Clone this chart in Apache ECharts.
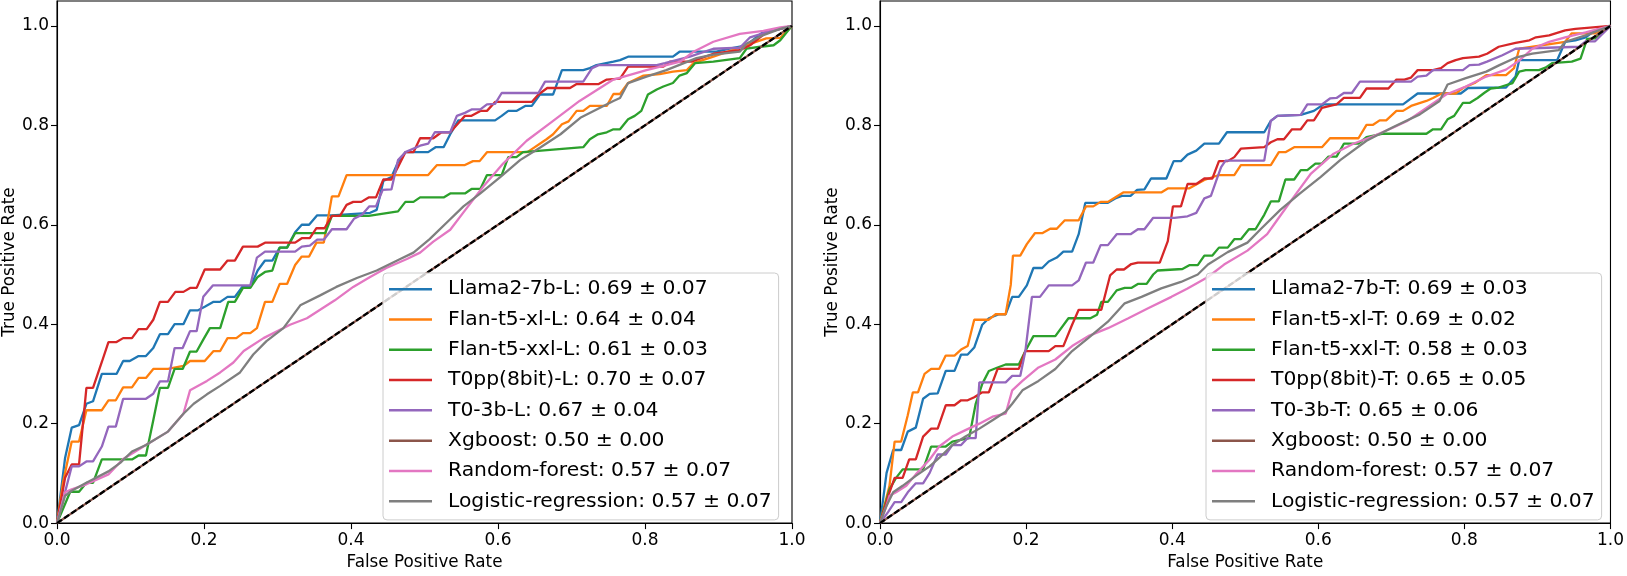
<!DOCTYPE html>
<html><head><meta charset="utf-8">
<script src="https://cdn.jsdelivr.net/npm/echarts@6/dist/echarts.min.js"></script>
<style>html,body{margin:0;padding:0;background:#fff}#c{width:1627px;height:576px}</style>
</head><body><div id="c"></div>
<script>
// ---------- tick labels ----------
const xTicks = [0, 0.2, 0.4, 0.6, 0.8, 1.0];
const yTicks = [0, 0.2, 0.4, 0.6, 0.8, 1.0];
const colors = ['#1f77b4','#ff7f0e','#2ca02c','#d62728','#9467bd','#8c564b','#e377c2','#7f7f7f'];

// ---------- legend labels ----------
const namesL = ['Llama2-7b-L: 0.69 ± 0.07','Flan-t5-xl-L: 0.64 ± 0.04','Flan-t5-xxl-L: 0.61 ± 0.03','T0pp(8bit)-L: 0.70 ± 0.07','T0-3b-L: 0.67 ± 0.04','Xgboost: 0.50 ± 0.00','Random-forest: 0.57 ± 0.07','Logistic-regression: 0.57 ± 0.07'];
const namesT = ['Llama2-7b-T: 0.69 ± 0.03','Flan-t5-xl-T: 0.69 ± 0.02','Flan-t5-xxl-T: 0.58 ± 0.03','T0pp(8bit)-T: 0.65 ± 0.05','T0-3b-T: 0.65 ± 0.06','Xgboost: 0.50 ± 0.00','Random-forest: 0.57 ± 0.07','Logistic-regression: 0.57 ± 0.07'];

// ---------- left panel (L) [fpr, tpr] ----------
const llamaL = [[0,0],[0.011,0.131],[0.020,0.192],[0.030,0.197],[0.040,0.240],[0.049,0.245],[0.061,0.300],[0.081,0.300],[0.090,0.326],[0.099,0.326],[0.111,0.336],[0.121,0.336],[0.131,0.352],[0.140,0.380],[0.151,0.380],[0.160,0.400],[0.172,0.400],[0.181,0.428],[0.192,0.428],[0.201,0.435],[0.213,0.445],[0.222,0.445],[0.232,0.455],[0.242,0.455],[0.252,0.475],[0.263,0.475],[0.273,0.508],[0.283,0.528],[0.293,0.528],[0.303,0.554],[0.313,0.554],[0.324,0.585],[0.333,0.600],[0.343,0.600],[0.354,0.619],[0.374,0.619],[0.426,0.624],[0.435,0.630],[0.444,0.688],[0.455,0.696],[0.464,0.726],[0.474,0.746],[0.505,0.746],[0.515,0.756],[0.526,0.756],[0.535,0.782],[0.546,0.810],[0.596,0.810],[0.605,0.819],[0.614,0.829],[0.625,0.829],[0.637,0.839],[0.646,0.839],[0.657,0.862],[0.675,0.862],[0.687,0.911],[0.716,0.911],[0.725,0.915],[0.734,0.921],[0.757,0.928],[0.766,0.931],[0.777,0.938],[0.838,0.938],[0.847,0.948],[0.897,0.948],[0.915,0.954],[0.938,0.961],[0.960,0.987],[0.984,0.994],[1,1]];
const flanXlL = [[0,0],[0.008,0.08],[0.020,0.164],[0.030,0.164],[0.040,0.227],[0.061,0.227],[0.070,0.247],[0.080,0.247],[0.090,0.273],[0.102,0.273],[0.111,0.292],[0.121,0.292],[0.131,0.310],[0.151,0.310],[0.172,0.316],[0.181,0.326],[0.201,0.326],[0.213,0.346],[0.222,0.346],[0.232,0.372],[0.244,0.372],[0.253,0.382],[0.263,0.382],[0.272,0.392],[0.283,0.445],[0.293,0.445],[0.303,0.481],[0.313,0.481],[0.324,0.519],[0.333,0.536],[0.343,0.536],[0.353,0.564],[0.363,0.564],[0.374,0.657],[0.383,0.657],[0.394,0.700],[0.505,0.700],[0.517,0.720],[0.555,0.720],[0.566,0.728],[0.575,0.728],[0.585,0.746],[0.640,0.746],[0.666,0.772],[0.675,0.782],[0.687,0.802],[0.696,0.808],[0.707,0.829],[0.716,0.829],[0.725,0.839],[0.748,0.839],[0.757,0.863],[0.766,0.863],[0.777,0.885],[0.798,0.900],[0.820,0.903],[0.838,0.908],[0.857,0.911],[0.866,0.925],[0.893,0.938],[0.938,0.961],[0.965,0.975],[0.984,0.976],[1,1]];
const flanXxlL = [[0,0],[0.018,0.063],[0.030,0.063],[0.040,0.081],[0.049,0.081],[0.061,0.128],[0.102,0.128],[0.111,0.136],[0.121,0.136],[0.131,0.207],[0.140,0.272],[0.151,0.272],[0.160,0.310],[0.171,0.310],[0.181,0.345],[0.190,0.345],[0.199,0.369],[0.208,0.392],[0.222,0.392],[0.233,0.445],[0.242,0.445],[0.253,0.473],[0.263,0.473],[0.273,0.495],[0.283,0.505],[0.293,0.508],[0.303,0.554],[0.313,0.554],[0.324,0.583],[0.365,0.583],[0.374,0.618],[0.424,0.618],[0.464,0.627],[0.474,0.646],[0.485,0.646],[0.494,0.655],[0.526,0.655],[0.535,0.663],[0.555,0.663],[0.564,0.672],[0.576,0.672],[0.585,0.700],[0.605,0.700],[0.614,0.736],[0.625,0.736],[0.634,0.746],[0.716,0.756],[0.725,0.772],[0.736,0.782],[0.748,0.786],[0.757,0.792],[0.766,0.792],[0.777,0.812],[0.786,0.819],[0.795,0.829],[0.804,0.862],[0.816,0.872],[0.825,0.878],[0.838,0.885],[0.847,0.900],[0.857,0.905],[0.868,0.925],[0.893,0.928],[0.929,0.935],[0.938,0.954],[0.957,0.958],[0.975,0.961],[0.984,0.971],[1,1]];
const t0ppL = [[0,0],[0.011,0.091],[0.020,0.118],[0.030,0.118],[0.040,0.272],[0.049,0.272],[0.061,0.324],[0.070,0.364],[0.081,0.364],[0.090,0.372],[0.102,0.372],[0.111,0.390],[0.122,0.390],[0.131,0.409],[0.140,0.445],[0.151,0.445],[0.161,0.465],[0.172,0.465],[0.181,0.473],[0.190,0.473],[0.201,0.510],[0.222,0.510],[0.232,0.528],[0.242,0.528],[0.253,0.556],[0.273,0.556],[0.283,0.564],[0.324,0.564],[0.333,0.573],[0.344,0.573],[0.353,0.593],[0.364,0.593],[0.374,0.618],[0.385,0.618],[0.394,0.640],[0.403,0.646],[0.414,0.646],[0.424,0.655],[0.434,0.655],[0.444,0.691],[0.455,0.691],[0.464,0.716],[0.474,0.746],[0.485,0.746],[0.494,0.774],[0.512,0.774],[0.523,0.786],[0.535,0.786],[0.546,0.804],[0.555,0.819],[0.564,0.819],[0.576,0.829],[0.585,0.829],[0.596,0.847],[0.646,0.847],[0.655,0.862],[0.667,0.875],[0.698,0.875],[0.707,0.883],[0.737,0.883],[0.748,0.892],[0.766,0.894],[0.777,0.918],[0.825,0.918],[0.834,0.928],[0.863,0.928],[0.893,0.944],[0.929,0.951],[0.943,0.961],[0.965,0.987],[0.984,0.994],[1,1]];
const t03bL = [[0,0],[0.020,0.114],[0.030,0.114],[0.040,0.124],[0.049,0.124],[0.061,0.154],[0.070,0.194],[0.080,0.194],[0.090,0.250],[0.121,0.250],[0.131,0.260],[0.140,0.285],[0.151,0.285],[0.160,0.352],[0.171,0.352],[0.181,0.386],[0.190,0.386],[0.199,0.455],[0.212,0.478],[0.263,0.478],[0.272,0.534],[0.283,0.546],[0.324,0.546],[0.333,0.556],[0.344,0.558],[0.354,0.570],[0.363,0.570],[0.374,0.591],[0.394,0.591],[0.404,0.612],[0.415,0.620],[0.425,0.637],[0.434,0.637],[0.443,0.670],[0.455,0.671],[0.464,0.730],[0.474,0.746],[0.494,0.759],[0.505,0.763],[0.514,0.786],[0.535,0.786],[0.544,0.819],[0.555,0.825],[0.564,0.832],[0.576,0.832],[0.585,0.842],[0.596,0.843],[0.605,0.865],[0.655,0.865],[0.664,0.888],[0.716,0.888],[0.728,0.915],[0.737,0.921],[0.816,0.921],[0.827,0.925],[0.861,0.938],[0.893,0.954],[0.929,0.956],[0.943,0.977],[0.965,0.987],[1,1]];
const xgbL = [[0,0],[1,1]];
const rfL = [[0,0],[0.011,0.062],[0.020,0.068],[0.040,0.078],[0.070,0.098],[0.090,0.129],[0.121,0.157],[0.151,0.184],[0.172,0.220],[0.181,0.267],[0.204,0.286],[0.222,0.303],[0.240,0.323],[0.254,0.346],[0.281,0.372],[0.317,0.399],[0.340,0.412],[0.378,0.448],[0.403,0.475],[0.426,0.495],[0.448,0.513],[0.476,0.531],[0.494,0.544],[0.512,0.566],[0.535,0.590],[0.553,0.625],[0.580,0.677],[0.607,0.723],[0.639,0.769],[0.675,0.809],[0.711,0.849],[0.757,0.892],[0.802,0.911],[0.848,0.928],[0.866,0.948],[0.893,0.968],[0.929,0.984],[0.961,0.990],[0.984,0.997],[1,1]];
const lrL = [[0,0],[0.011,0.055],[0.020,0.065],[0.040,0.081],[0.070,0.104],[0.086,0.121],[0.102,0.144],[0.121,0.157],[0.151,0.184],[0.172,0.220],[0.186,0.240],[0.204,0.259],[0.222,0.276],[0.249,0.303],[0.267,0.339],[0.285,0.366],[0.308,0.392],[0.331,0.438],[0.358,0.458],[0.380,0.475],[0.408,0.493],[0.435,0.508],[0.467,0.531],[0.485,0.544],[0.507,0.571],[0.530,0.604],[0.553,0.637],[0.576,0.663],[0.603,0.696],[0.630,0.730],[0.658,0.756],[0.685,0.782],[0.712,0.815],[0.757,0.849],[0.766,0.855],[0.777,0.885],[0.802,0.898],[0.829,0.911],[0.870,0.935],[0.893,0.942],[0.929,0.948],[0.938,0.964],[0.960,0.981],[0.984,0.994],[1,1]];

// ---------- right panel (T) [fpr, tpr] ----------
const llamaT = [[0,0],[0.009,0.101],[0.018,0.147],[0.029,0.147],[0.038,0.184],[0.049,0.192],[0.059,0.250],[0.068,0.260],[0.079,0.261],[0.090,0.306],[0.102,0.306],[0.111,0.339],[0.120,0.339],[0.129,0.353],[0.140,0.399],[0.149,0.412],[0.163,0.420],[0.172,0.420],[0.181,0.455],[0.190,0.455],[0.201,0.478],[0.210,0.513],[0.222,0.513],[0.231,0.526],[0.242,0.534],[0.251,0.546],[0.263,0.546],[0.272,0.581],[0.281,0.644],[0.312,0.644],[0.322,0.653],[0.331,0.658],[0.343,0.658],[0.352,0.670],[0.362,0.671],[0.371,0.693],[0.392,0.693],[0.402,0.728],[0.412,0.728],[0.421,0.741],[0.433,0.749],[0.444,0.763],[0.464,0.763],[0.475,0.786],[0.526,0.786],[0.535,0.809],[0.544,0.819],[0.576,0.821],[0.594,0.829],[0.607,0.842],[0.716,0.842],[0.736,0.864],[0.795,0.864],[0.805,0.875],[0.857,0.876],[0.870,0.898],[0.875,0.931],[0.927,0.931],[0.938,0.968],[0.952,0.971],[0.966,0.977],[0.979,0.991],[1,1]];
const flanXlT = [[0,0],[0.013,0.075],[0.020,0.164],[0.029,0.164],[0.038,0.217],[0.045,0.263],[0.052,0.263],[0.061,0.300],[0.070,0.310],[0.081,0.310],[0.090,0.337],[0.102,0.337],[0.111,0.349],[0.120,0.356],[0.129,0.409],[0.149,0.409],[0.158,0.420],[0.172,0.420],[0.179,0.479],[0.182,0.538],[0.192,0.538],[0.201,0.561],[0.212,0.583],[0.222,0.583],[0.233,0.592],[0.242,0.592],[0.253,0.609],[0.272,0.609],[0.282,0.637],[0.292,0.637],[0.302,0.646],[0.312,0.646],[0.324,0.657],[0.333,0.665],[0.385,0.665],[0.394,0.673],[0.423,0.673],[0.444,0.690],[0.464,0.700],[0.485,0.700],[0.494,0.720],[0.535,0.720],[0.546,0.746],[0.555,0.746],[0.567,0.756],[0.605,0.756],[0.616,0.774],[0.655,0.774],[0.666,0.801],[0.675,0.801],[0.684,0.810],[0.693,0.810],[0.707,0.829],[0.716,0.829],[0.727,0.839],[0.748,0.849],[0.757,0.855],[0.769,0.864],[0.788,0.864],[0.798,0.875],[0.814,0.885],[0.830,0.901],[0.857,0.901],[0.868,0.915],[0.875,0.954],[0.938,0.968],[0.947,0.985],[0.979,0.985],[1,1]];
const flanXxlT = [[0,0],[0.013,0.068],[0.022,0.091],[0.031,0.108],[0.059,0.108],[0.070,0.154],[0.090,0.154],[0.099,0.164],[0.122,0.171],[0.131,0.240],[0.140,0.280],[0.149,0.306],[0.161,0.313],[0.172,0.319],[0.190,0.319],[0.199,0.346],[0.210,0.376],[0.240,0.376],[0.258,0.412],[0.288,0.412],[0.297,0.419],[0.303,0.445],[0.312,0.445],[0.324,0.468],[0.335,0.473],[0.344,0.473],[0.353,0.481],[0.365,0.481],[0.374,0.500],[0.380,0.508],[0.414,0.511],[0.424,0.519],[0.435,0.519],[0.444,0.538],[0.455,0.538],[0.464,0.554],[0.476,0.554],[0.485,0.571],[0.494,0.571],[0.505,0.591],[0.514,0.591],[0.526,0.620],[0.535,0.647],[0.546,0.647],[0.555,0.691],[0.567,0.691],[0.576,0.710],[0.585,0.710],[0.596,0.723],[0.605,0.723],[0.614,0.737],[0.625,0.737],[0.635,0.763],[0.655,0.763],[0.666,0.776],[0.687,0.783],[0.748,0.783],[0.757,0.792],[0.768,0.792],[0.777,0.812],[0.786,0.819],[0.798,0.845],[0.807,0.845],[0.818,0.855],[0.827,0.865],[0.836,0.874],[0.847,0.876],[0.866,0.885],[0.875,0.908],[0.884,0.911],[0.902,0.911],[0.911,0.916],[0.920,0.925],[0.947,0.928],[0.959,0.934],[0.968,0.974],[0.979,0.975],[1,1]];
const t0ppT = [[0,0],[0.013,0.062],[0.020,0.091],[0.031,0.091],[0.040,0.128],[0.049,0.128],[0.059,0.174],[0.070,0.190],[0.079,0.190],[0.090,0.237],[0.102,0.237],[0.111,0.247],[0.120,0.247],[0.129,0.253],[0.140,0.263],[0.149,0.263],[0.161,0.310],[0.190,0.310],[0.199,0.346],[0.231,0.346],[0.240,0.356],[0.251,0.356],[0.263,0.399],[0.272,0.429],[0.303,0.429],[0.315,0.498],[0.324,0.510],[0.334,0.510],[0.344,0.521],[0.353,0.524],[0.383,0.524],[0.394,0.567],[0.401,0.637],[0.412,0.637],[0.421,0.682],[0.433,0.682],[0.444,0.693],[0.455,0.693],[0.464,0.728],[0.476,0.728],[0.485,0.736],[0.494,0.753],[0.526,0.756],[0.535,0.766],[0.544,0.772],[0.553,0.772],[0.564,0.792],[0.576,0.792],[0.585,0.810],[0.594,0.810],[0.605,0.835],[0.616,0.839],[0.625,0.842],[0.635,0.855],[0.657,0.855],[0.666,0.874],[0.696,0.874],[0.707,0.892],[0.718,0.892],[0.727,0.896],[0.736,0.911],[0.757,0.911],[0.768,0.915],[0.777,0.925],[0.788,0.931],[0.798,0.935],[0.820,0.938],[0.831,0.944],[0.847,0.958],[0.870,0.966],[0.889,0.971],[0.898,0.977],[0.916,0.981],[0.938,0.991],[0.952,0.994],[1,1]];
const t03bT = [[0,0],[0.011,0.022],[0.020,0.042],[0.029,0.042],[0.038,0.062],[0.049,0.080],[0.059,0.080],[0.068,0.101],[0.079,0.138],[0.090,0.138],[0.099,0.157],[0.111,0.157],[0.120,0.171],[0.131,0.171],[0.136,0.283],[0.172,0.283],[0.181,0.296],[0.192,0.296],[0.199,0.346],[0.208,0.455],[0.219,0.455],[0.231,0.478],[0.263,0.478],[0.272,0.488],[0.282,0.524],[0.292,0.524],[0.302,0.559],[0.312,0.559],[0.324,0.581],[0.343,0.581],[0.353,0.591],[0.362,0.591],[0.374,0.614],[0.403,0.614],[0.421,0.617],[0.433,0.624],[0.444,0.653],[0.453,0.658],[0.462,0.696],[0.467,0.716],[0.473,0.729],[0.526,0.729],[0.535,0.809],[0.544,0.819],[0.576,0.821],[0.585,0.842],[0.605,0.842],[0.616,0.854],[0.625,0.855],[0.635,0.865],[0.646,0.865],[0.657,0.888],[0.727,0.888],[0.736,0.898],[0.748,0.900],[0.757,0.911],[0.798,0.911],[0.807,0.921],[0.820,0.922],[0.831,0.928],[0.852,0.941],[0.870,0.954],[0.957,0.958],[0.966,0.969],[0.979,0.969],[1,1]];
const xgbT = [[0,0],[1,1]];
const rfT = [[0,0],[0.009,0.035],[0.013,0.055],[0.022,0.062],[0.036,0.075],[0.049,0.098],[0.068,0.128],[0.081,0.154],[0.099,0.174],[0.117,0.187],[0.136,0.200],[0.154,0.214],[0.172,0.220],[0.181,0.267],[0.195,0.286],[0.217,0.313],[0.240,0.329],[0.263,0.356],[0.285,0.376],[0.312,0.392],[0.340,0.412],[0.367,0.432],[0.399,0.455],[0.421,0.472],[0.449,0.495],[0.471,0.520],[0.503,0.548],[0.530,0.581],[0.544,0.610],[0.567,0.657],[0.590,0.703],[0.621,0.743],[0.648,0.763],[0.675,0.778],[0.702,0.795],[0.721,0.808],[0.748,0.835],[0.775,0.862],[0.802,0.878],[0.830,0.898],[0.857,0.912],[0.875,0.930],[0.893,0.954],[0.916,0.968],[0.938,0.977],[0.966,0.987],[1,1]];
const lrT = [[0,0],[0.009,0.035],[0.018,0.062],[0.031,0.075],[0.049,0.095],[0.068,0.114],[0.081,0.131],[0.099,0.157],[0.117,0.174],[0.136,0.190],[0.154,0.207],[0.172,0.224],[0.181,0.240],[0.195,0.267],[0.217,0.286],[0.240,0.310],[0.263,0.346],[0.285,0.372],[0.312,0.405],[0.335,0.442],[0.358,0.455],[0.385,0.472],[0.412,0.485],[0.435,0.500],[0.449,0.520],[0.476,0.545],[0.503,0.564],[0.521,0.591],[0.548,0.630],[0.575,0.663],[0.603,0.696],[0.630,0.730],[0.666,0.769],[0.702,0.796],[0.739,0.822],[0.766,0.849],[0.777,0.882],[0.802,0.895],[0.830,0.908],[0.848,0.921],[0.870,0.936],[0.893,0.944],[0.929,0.951],[0.938,0.968],[0.966,0.981],[1,1]];
const chance = [[0,0],[1,1]];

const dataL = [llamaL, flanXlL, flanXxlL, t0ppL, t03bL, xgbL, rfL, lrL];
const dataT = [llamaT, flanXlT, flanXxlT, t0ppT, t03bT, xgbT, rfT, lrT];

const FONT = 'DejaVu Sans';
const tickFont = 17;

function xAxisDef(gi){
  return {type:'value', gridIndex:gi, min:0, max:1, interval:0.2,
    name:'False Positive Rate', nameLocation:'middle', nameGap:29,
    nameTextStyle:{fontFamily:FONT, fontSize:16.8, color:'#000'},
    axisLine:{show:true, onZero:false, lineStyle:{color:'#000', width:1.1}},
    axisTick:{show:true, length:6, lineStyle:{color:'#000', width:1.1}, customValues:xTicks},
    axisLabel:{color:'#000', fontFamily:FONT, fontSize:tickFont, margin:9, customValues:xTicks, formatter:v=>v.toFixed(1)},
    splitLine:{show:false}};
}
function yAxisDef(gi){
  return {type:'value', gridIndex:gi, min:0, max:1.05,
    name:'True Positive Rate', nameLocation:'middle', nameGap:38,
    nameTextStyle:{fontFamily:FONT, fontSize:16.8, color:'#000'},
    axisLine:{show:true, onZero:false, lineStyle:{color:'#000', width:1.1}},
    axisTick:{show:true, length:6, lineStyle:{color:'#000', width:1.1}, customValues:yTicks},
    axisLabel:{color:'#000', fontFamily:FONT, fontSize:tickFont, margin:8, customValues:yTicks, formatter:v=>v.toFixed(1)},
    splitLine:{show:false}};
}
function legendDef(names, left){
  return {data:names, orient:'vertical', left:left, top:273, icon:'rect', itemWidth:43, itemHeight:2.5,
    itemGap:6, padding:[4,7,6.5,6], backgroundColor:'rgba(255,255,255,0.8)', borderColor:'#cccccc', borderWidth:1, borderRadius:4,
    textStyle:{fontFamily:FONT, fontSize:20.3, color:'#000', lineHeight:24.3, padding:[0,0,0,11]}, selectedMode:false};
}
const series = [];
function addPanel(names, data, gi){
  data.forEach((d,i)=>{
    series.push({type:'line', name:names[i], xAxisIndex:gi, yAxisIndex:gi, data:d, showSymbol:false, symbol:'none',
      color:colors[i], lineStyle:{color:colors[i], width:2.3}, z:2+i*0.01, silent:true});
  });
  series.push({type:'line', name:'chance'+gi, xAxisIndex:gi, yAxisIndex:gi, data:chance, showSymbol:false, symbol:'none',
    color:'#000', lineStyle:{color:'#000', width:2.3, type:[6,2.6]}, z:3, silent:true});
}
addPanel(namesL, dataL, 0);
addPanel(namesT, dataT, 1);

const chart = echarts.init(document.getElementById('c'), null, {renderer:'canvas'});
chart.setOption({
  animation:false,
  backgroundColor:'#fff',
  grid:[{left:57, top:1, width:735, height:530, show:true, borderColor:'#000', borderWidth:1.1},
        {left:880, top:1, width:735, height:530, show:true, borderColor:'#000', borderWidth:1.1}],
  xAxis:[xAxisDef(0), xAxisDef(1)],
  yAxis:[yAxisDef(0), yAxisDef(1)],
  legend:[legendDef(namesL, 383), legendDef(namesT, 1206)],
  series:series
});
</script></body></html>
